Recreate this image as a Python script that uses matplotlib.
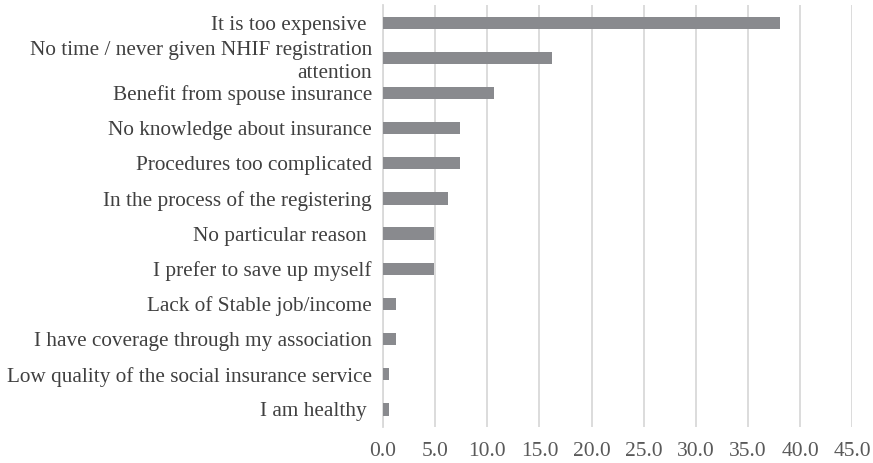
import matplotlib
matplotlib.use('agg')
import matplotlib.pyplot as plt
import numpy as np

reasons = [
    'It is too expensive ',
    'No time / never given NHIF registration\nattention',
    'Benefit from spouse insurance',
    'No knowledge about insurance',
    'Procedures too complicated',
    'In the process of the registering',
    'No particular reason ',
    'I prefer to save up myself',
    'Lack of Stable job/income',
    'I have coverage through my association',
    'Low quality of the social insurance service',
    'I am healthy ',
]
percent = [38.1, 16.2, 10.6, 7.4, 7.4, 6.2, 4.9, 4.9, 1.2, 1.2, 0.6, 0.6]
xticks = np.arange(0, 50, 5)

plt.rcParams['font.family'] = ['Liberation Serif', 'DejaVu Serif']

fig = plt.figure(figsize=(8.73, 4.63), dpi=100)
ax = fig.add_axes([0.4387, 0.0778, 0.5376, 0.9112])

y = np.arange(len(reasons))
ax.barh(y, percent, height=0.35, color='#898a8e', zorder=3)

ax.set_ylim(len(reasons) - 0.5, -0.5)
ax.set_xlim(0, 45)
ax.set_xticks(xticks)
ax.set_xticklabels([f'{v:.1f}' for v in xticks])
ax.set_yticks(y)
ax.set_yticklabels(reasons, ha='right', linespacing=1.25)

ax.xaxis.grid(True, color='#d9d9d9', linewidth=1.3, zorder=0)
ax.set_axisbelow(True)
for side in ['top', 'right', 'bottom']:
    ax.spines[side].set_visible(False)
ax.spines['left'].set_color('#d9d9d9')
ax.spines['left'].set_linewidth(1.3)

ax.tick_params(axis='y', length=0, pad=8, labelsize=15.3, labelcolor='#404040')
ax.tick_params(axis='x', length=0, pad=11, labelsize=15.5, labelcolor='#595959')

fig.savefig('out.png', dpi=100)
